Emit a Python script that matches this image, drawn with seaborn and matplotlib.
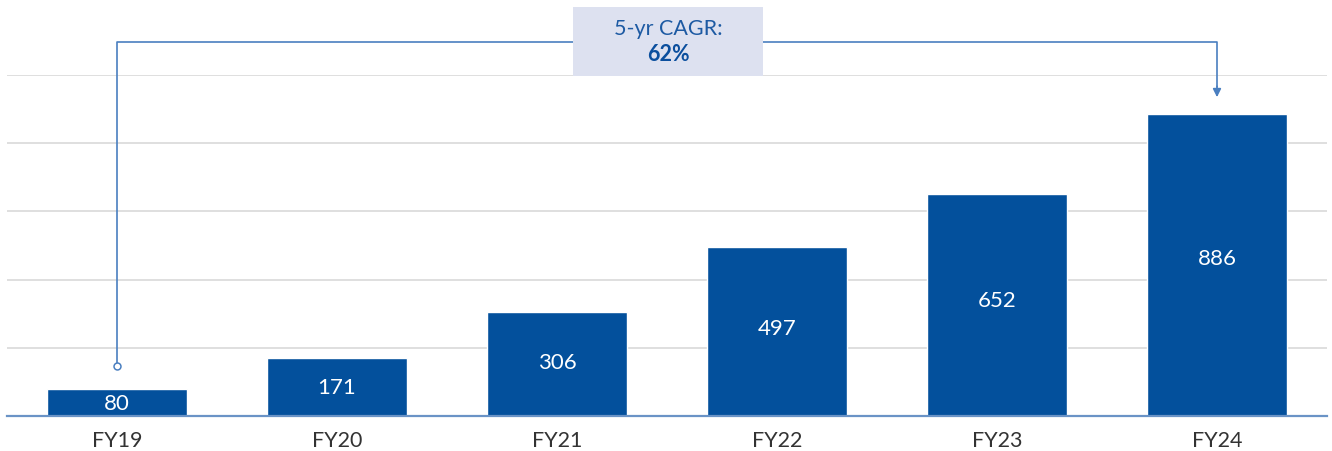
import matplotlib
matplotlib.use("Agg")
import matplotlib.pyplot as plt
import seaborn as sns
import pandas as pd
from matplotlib.patches import Rectangle

years = ["FY19", "FY20", "FY21", "FY22", "FY23", "FY24"]
values = [80, 171, 306, 497, 652, 886]
cagr_label = "5-yr CAGR:"
cagr_value = "62%"

BAR = "#03509c"
LINE = "#4a7fc0"
BOX = "#dde1f0"
TXT = "#333333"

sns.set_theme(style="white")
plt.rcParams["font.family"] = ["Lato", "DejaVu Sans"]

df = pd.DataFrame({"year": years, "value": values})

fig = plt.figure(figsize=(13.32, 4.52), dpi=100)
ax = fig.add_axes([7 / 1332, 1 - 417 / 452, 1320 / 1332, (417 - 76) / 452])

sns.barplot(data=df, x="year", y="value", color=BAR, width=0.636,
            saturation=1, ax=ax, zorder=3)

ax.set_xlim(-0.5, 5.5)
ax.set_ylim(0, 1000)
ax.set_yticks([0, 200, 400, 600, 800, 1000])
ax.yaxis.grid(True, color="#dcdcdc", linewidth=1.3, zorder=0)
ax.set_yticklabels([])
ax.tick_params(axis="y", length=0)
ax.tick_params(axis="x", length=0, labelsize=15.5, labelcolor=TXT, pad=10)
ax.set_xlabel("")
ax.set_ylabel("")
for s in ["top", "right", "left"]:
    ax.spines[s].set_visible(False)
ax.spines["bottom"].set_color("#6a93c6")
ax.spines["bottom"].set_linewidth(1.6)
ax.spines["bottom"].set_zorder(4)

# value labels inside the bars, a little above the middle on tall bars
for i, v in enumerate(values):
    ax.text(i, 0.53 * v - 5, f"{v}", ha="center", va="center",
            color="white", fontsize=16, zorder=5)

# CAGR bracket from FY19 to FY24
y_start, y_top, y_end = 147, 1097, 945
ax.plot([0, 0, 5, 5], [y_start, y_top, y_top, y_end + 20], color=LINE,
        linewidth=1.2, clip_on=False, zorder=2)
ax.plot([0], [y_start], marker="o", markersize=5, markerfacecolor="white",
        markeredgecolor=LINE, markeredgewidth=1.1, clip_on=False, zorder=6)
ax.annotate("", xy=(5, y_end - 10), xytext=(5, y_end + 22),
            arrowprops=dict(arrowstyle="-|>", color=LINE, lw=1.2,
                            mutation_scale=12, shrinkA=0, shrinkB=0),
            annotation_clip=False, zorder=2)

box_x0, box_w = (573 - 117) / 220, 190 / 220
ax.add_patch(Rectangle((box_x0, 998), box_w, 202, facecolor=BOX,
                       edgecolor="none", clip_on=False, zorder=7))
cx = box_x0 + box_w / 2
ax.text(cx, 1139, cagr_label, ha="center", va="center", color="#1d5aa3",
        fontsize=15.5, clip_on=False, zorder=8)
ax.text(cx, 1062, cagr_value, ha="center", va="center", color="#0b4f9e",
        fontsize=15.5, fontweight="bold", clip_on=False, zorder=8)

fig.savefig("out.png", dpi=100)
